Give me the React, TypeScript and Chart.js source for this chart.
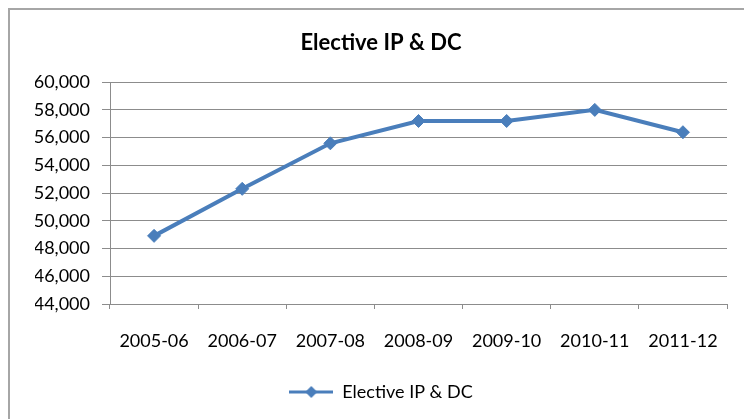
import React, { useEffect, useRef } from "react";
import { Chart, registerables } from "chart.js";

Chart.register(...registerables);

const categories = ["2005-06", "2006-07", "2007-08", "2008-09", "2009-10", "2010-11", "2011-12"];
const seriesName = "Elective IP & DC";
const seriesValues = [48910, 52300, 55580, 57190, 57190, 57990, 56380];
const chartTitle = "Elective IP & DC";
const yMin = 44000;
const yMax = 60000;
const yStep = 2000;

const BLUE = "#4a7ebb";
const GRID = "#8c8c8c";
const FONT = "Lato";

export default function App() {
  const ref = useRef<HTMLCanvasElement | null>(null);

  useEffect(() => {
    const canvas = ref.current;
    if (!canvas) return;

    const icon = document.createElement("canvas");
    icon.width = 44;
    icon.height = 14;
    const ictx = icon.getContext("2d")!;
    ictx.strokeStyle = BLUE;
    ictx.lineWidth = 3;
    ictx.beginPath();
    ictx.moveTo(0, 7);
    ictx.lineTo(44, 7);
    ictx.stroke();
    ictx.fillStyle = BLUE;
    ictx.beginPath();
    ictx.moveTo(22 - 6, 7);
    ictx.lineTo(22, 1);
    ictx.lineTo(22 + 6, 7);
    ictx.lineTo(22, 13);
    ictx.closePath();
    ictx.fill();

    const frame = {
      id: "frame",
      beforeDraw(chart: any) {
        const c = chart.ctx;
        c.save();
        c.fillStyle = "#ffffff";
        c.fillRect(0, 0, chart.width, chart.height);
        c.strokeStyle = "#a6a6a6";
        c.lineWidth = 2;
        c.strokeRect(1, 1, chart.width + 10, chart.height + 10);
        c.restore();
      },
    };

    const chart = new Chart(canvas, {
      type: "line",
      data: {
        labels: categories,
        datasets: [
          {
            label: seriesName,
            data: seriesValues,
            borderColor: BLUE,
            backgroundColor: BLUE,
            borderWidth: 4,
            pointStyle: "rectRot",
            pointRadius: 6.5,
            pointBorderWidth: 1,
            pointBackgroundColor: BLUE,
            pointBorderColor: BLUE,
            tension: 0,
          },
        ],
      },
      options: {
        responsive: false,
        animation: false,
        devicePixelRatio: 1,
        layout: { padding: { left: 27, right: 17, top: 0, bottom: 8 } },
        plugins: {
          title: {
            display: true,
            text: chartTitle,
            color: "#000",
            font: { family: FONT, size: 22, weight: "bold" },
            padding: { top: 22, bottom: 25.6 },
          },
          legend: {
            display: true,
            position: "bottom",
            labels: {
              color: "#000",
              font: { family: FONT, size: 18 },
              usePointStyle: true,
              pointStyle: icon as any,
              pointStyleWidth: 44,
              padding: 10,
            },
          },
          tooltip: { enabled: false },
        },
        scales: {
          x: {
            offset: true,
            grid: {
              offset: true,
              drawOnChartArea: false,
              drawTicks: true,
              tickLength: 5,
              color: GRID,
            },
            border: { color: GRID, width: 1 },
            ticks: {
              color: "#000",
              font: { family: FONT, size: 18 },
              padding: 21,
              maxRotation: 0,
              autoSkip: false,
            },
            afterFit(scale: any) {
              scale.height = 69;
            },
          },
          y: {
            min: yMin,
            max: yMax,
            grid: { color: GRID, tickLength: 8, lineWidth: 1 },
            border: { color: GRID, width: 1 },
            ticks: {
              stepSize: yStep,
              color: "#000",
              font: { family: FONT, size: 18 },
              padding: 12,
              callback: (v: any) => Number(v).toLocaleString("en-US"),
            },
            afterFit(scale: any) {
              scale.width = 75;
            },
          },
        },
      },
      plugins: [frame],
    });

    return () => chart.destroy();
  }, []);

  return (
    <canvas
      ref={ref}
      width={736}
      height={411}
      style={{ position: "fixed", left: 8, top: 8, width: 736, height: 411, display: "block" }}
    />
  );
}
